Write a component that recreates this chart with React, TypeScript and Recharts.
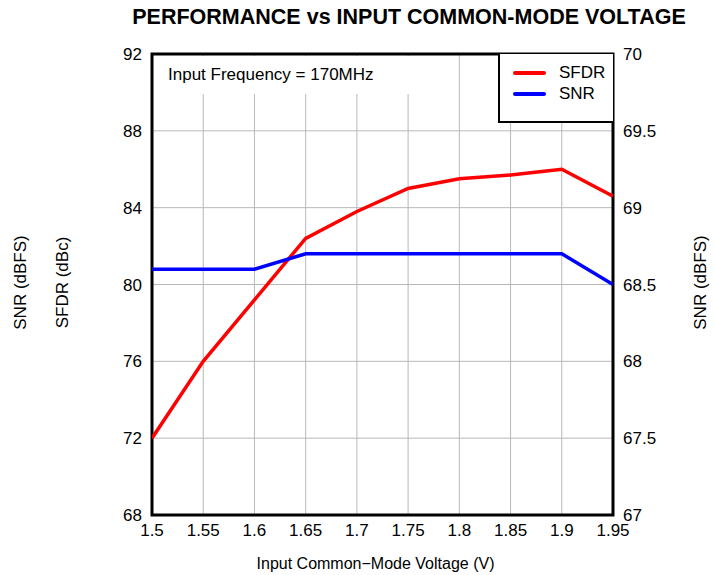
import { LineChart, Line, XAxis, YAxis, CartesianGrid, ReferenceArea, Legend, Label } from 'recharts';

// input common-mode voltage (V)
const voltages = [1.5, 1.55, 1.6, 1.65, 1.7, 1.75, 1.8, 1.85, 1.9, 1.95];
// SFDR (dBc), left axis
const sfdr = [72.0, 76.0, 79.2, 82.4, 83.8, 85.0, 85.5, 85.7, 86.0, 84.6];
// SNR (dBFS), right axis
const snr = [68.6, 68.6, 68.6, 68.7, 68.7, 68.7, 68.7, 68.7, 68.7, 68.5];

const xTicks = [1.5, 1.55, 1.6, 1.65, 1.7, 1.75, 1.8, 1.85, 1.9, 1.95];
const leftTicks = [68, 72, 76, 80, 84, 88, 92];
const rightTicks = [67, 67.5, 68, 68.5, 69, 69.5, 70];

const FONT = '"Liberation Sans", Arial, Helvetica, sans-serif';

const chartData = voltages.map((v, i) => ({ v, sfdr: sfdr[i], snr: snr[i] }));

function LeftAxisLabel({ viewBox }: any) {
  const cy = viewBox.y + viewBox.height / 2 - 2;
  return (
    <g fontFamily={FONT} fontSize={17} fill="#000">
      <text x={20} y={cy} transform={`rotate(-90 20 ${cy})`} textAnchor="middle" dominantBaseline="central">SNR (dBFS)</text>
      <text x={62} y={cy} transform={`rotate(-90 62 ${cy})`} textAnchor="middle" dominantBaseline="central">SFDR (dBc)</text>
    </g>
  );
}

function RightAxisLabel({ viewBox }: any) {
  const cy = viewBox.y + viewBox.height / 2 - 2;
  return (
    <text x={700} y={cy} transform={`rotate(-90 700 ${cy})`} textAnchor="middle" dominantBaseline="central"
      fontFamily={FONT} fontSize={17} fill="#000">SNR (dBFS)</text>
  );
}

function LegendBox() {
  const items = [
    { name: 'SFDR', color: '#ff0000' },
    { name: 'SNR', color: '#0000ff' },
  ];
  return (
    <div style={{ width: 113, height: 59, border: '2px solid #000', borderTop: 'none', borderRight: 'none', background: '#fff', fontFamily: FONT, fontSize: 17, paddingTop: 8, boxSizing: 'content-box' }}>
      {items.map((it) => (
        <div key={it.name} style={{ display: 'flex', alignItems: 'center', height: 21 }}>
          <div style={{ width: 33, height: 4, background: it.color, marginLeft: 13, borderRadius: 2 }} />
          <span style={{ marginLeft: 13 }}>{it.name}</span>
        </div>
      ))}
    </div>
  );
}

export default function App() {
  return (
    <div style={{ position: 'absolute', left: 0, top: 0, width: 715, height: 575, background: '#fff' }}>
      <div style={{ position: 'absolute', left: 0, width: 818, top: 5, textAlign: 'center', fontFamily: FONT, fontWeight: 'bold', fontSize: 21.5 }}>
        PERFORMANCE vs INPUT COMMON-MODE VOLTAGE
      </div>
      <LineChart width={715} height={575} data={chartData} margin={{ top: 54, right: 0, bottom: 0, left: 0 }}>
        <CartesianGrid yAxisId="left" stroke="#b8b8b8" strokeWidth={1} horizontalValues={leftTicks} verticalValues={xTicks} />
        <XAxis dataKey="v" type="number" domain={[1.5, 1.95]} ticks={xTicks} allowDataOverflow
          height={60} tickLine={false} tickSize={7} tickMargin={2} axisLine={false}
          tick={{ fill: '#000', fontSize: 17, fontFamily: FONT }}>
          <Label value="Input Common−Mode Voltage (V)" position="insideBottom" offset={6} dx={-7}
            style={{ fill: '#000', fontSize: 16, fontFamily: FONT }} />
        </XAxis>
        <YAxis yAxisId="left" orientation="left" width={152} domain={[68, 92]} ticks={leftTicks}
          tickLine={false} tickSize={8} tickMargin={2} axisLine={false}
          tick={{ fill: '#000', fontSize: 17, fontFamily: FONT }}>
          <Label content={<LeftAxisLabel />} />
        </YAxis>
        <YAxis yAxisId="right" orientation="right" width={102} domain={[67, 70]} ticks={rightTicks}
          tickLine={false} tickSize={8} tickMargin={2} axisLine={false}
          tick={{ fill: '#000', fontSize: 17, fontFamily: FONT, textAnchor: 'start' }}>
          <Label content={<RightAxisLabel />} />
        </YAxis>
        <Line yAxisId="left" type="linear" dataKey="sfdr" stroke="#ff0000" strokeWidth={3.5} dot={false} isAnimationActive={false} />
        <Line yAxisId="right" type="linear" dataKey="snr" stroke="#0000ff" strokeWidth={3.5} dot={false} isAnimationActive={false} />
        <ReferenceArea yAxisId="left" x1={1.5} x2={1.95} y1={68} y2={92} fill="none" stroke="#000" strokeWidth={3} ifOverflow="visible" />
        <Legend layout="vertical" align="center" verticalAlign="middle" content={<LegendBox />}
          wrapperStyle={{ position: 'absolute', left: 498, top: 54, width: 115, height: 61 }} />
      </LineChart>
      <div style={{ position: 'absolute', left: 154, top: 56, width: 260, height: 38, background: '#fff', fontFamily: FONT, fontSize: 17, lineHeight: '38px', paddingLeft: 14, boxSizing: 'border-box' }}>
        Input Frequency = 170MHz
      </div>
    </div>
  );
}
